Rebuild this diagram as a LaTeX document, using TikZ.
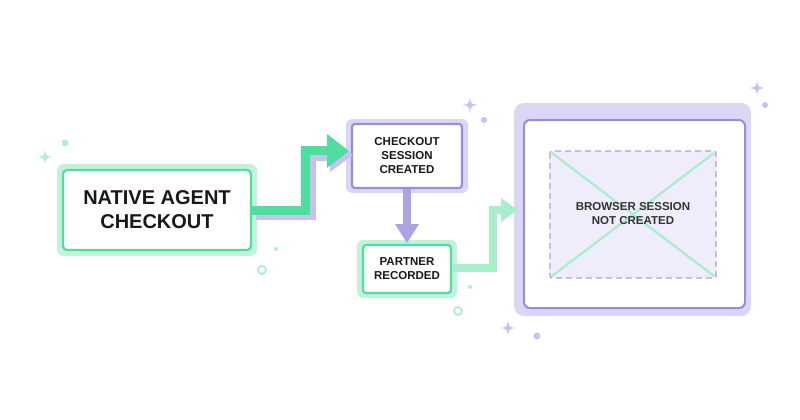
\documentclass[tikz,border=0pt]{standalone}
\usepackage{fontspec}
\setmainfont{Liberation Sans}
\usetikzlibrary{arrows.meta}
\definecolor{grn}{HTML}{4FDDA0}
\definecolor{grnglow}{HTML}{C2F2DC}
\definecolor{grnlt}{HTML}{A8EDCC}
\definecolor{pur}{HTML}{9A8CDB}
\definecolor{purglow}{HTML}{DCD6F5}
\definecolor{purfill}{HTML}{EFEDFB}
\definecolor{dashcol}{HTML}{ABA3D0}
\definecolor{deco}{HTML}{C9C2EE}
\definecolor{decog}{HTML}{B5EDD4}
\tikzset{
 x=1pt,y=-1pt,
 txt/.style={font=\bfseries,align=center,text=black!90,inner sep=0pt},
 spark/.pic={\fill[#1] (0,-8) .. controls (1,-1) .. (8,0) .. controls (1,1) .. (0,8) .. controls (-1,1) .. (-8,0) .. controls (-1,-1) .. (0,-8);},
}
\begin{document}
\begin{tikzpicture}
\useasboundingbox (0,0) rectangle (800,420);
% native
\fill[grnglow,rounded corners=7pt] (57,164) rectangle (257,256);
\draw[grn,line width=2.2pt,fill=white,rounded corners=4pt] (63,170) rectangle (251,250);
\node[txt,font=\bfseries\fontsize{20}{24}\selectfont] (nac) at (157,210) {NATIVE AGENT\\CHECKOUT};
\coordinate (nacR) at (252,210);
% checkout
\fill[purglow,rounded corners=6pt] (346,119) rectangle (468,193);
\draw[pur,line width=2.2pt,fill=white,rounded corners=3pt] (352,124) rectangle (462,188);
\node[txt,font=\bfseries\fontsize{11.5}{14}\selectfont] (cs) at (407,156) {CHECKOUT\\SESSION\\CREATED};
% partner
\fill[grnglow,rounded corners=6pt] (357,240) rectangle (457,298);
\draw[grn,line width=2.2pt,fill=white,rounded corners=3pt] (363,245) rectangle (451,293);
\node[txt,font=\bfseries\fontsize{11.5}{14}\selectfont] (pr) at (407,269) {PARTNER\\RECORDED};
% browser
\fill[purglow,rounded corners=10pt] (514,103) rectangle (751,316);
\draw[pur,line width=2pt,fill=white,rounded corners=6pt] (524,120) rectangle (745,308);
\draw[dashcol,line width=1.2pt,fill=purfill,dash pattern=on 6pt off 4pt,rounded corners=2pt] (550,151) rectangle (716,278);
\draw[grnlt,line width=2.2pt] (552,153) -- (714,276) (714,153) -- (552,276);
\node[txt,font=\bfseries\fontsize{11.5}{14}\selectfont,text=black!80] (bs) at (633,214) {BROWSER SESSION\\NOT CREATED};
% arrow 1
\draw[purglow!70!pur,line width=11pt] (256,214) -- (310,214) -- (310,155) -- (333,155);
\fill[purglow!70!pur] (330,138) -- (353,155) -- (330,172) -- cycle;
\draw[grn,line width=9pt] (nacR) -- (305,210) -- (305,150) -- (330,150);
\fill[grn] (327,134) -- (349,151) -- (327,168) -- cycle;
% arrow 2
\draw[pur!80,line width=8pt] (407,189) -- (407,226);
\fill[pur!80] (395,224) -- (419,224) -- (407,243) -- cycle;
% arrow 3
\draw[grnlt,line width=8pt] (452,268) -- (493,268) -- (493,210) -- (503,210);
\fill[grnlt] (501,198) -- (518,210) -- (501,222) -- cycle;
% deco
\pic at (45,157) {spark=decog};
\pic at (470,105) {spark=deco};
\pic at (757,88) {spark=deco};
\pic at (508,328) {spark=deco};
\fill[decog] (65,143) circle (3.5pt);
\fill[decog] (276,249) circle (2pt);
\fill[deco] (484,120) circle (3pt);
\fill[deco] (765,105) circle (3pt);
\fill[decog] (470,287) circle (2pt);
\fill[deco] (537,336) circle (3.5pt);
\draw[decog,line width=2pt] (262,270) circle (4pt);
\draw[decog,line width=2pt] (458,311) circle (4pt);
\end{tikzpicture}
\end{document}
